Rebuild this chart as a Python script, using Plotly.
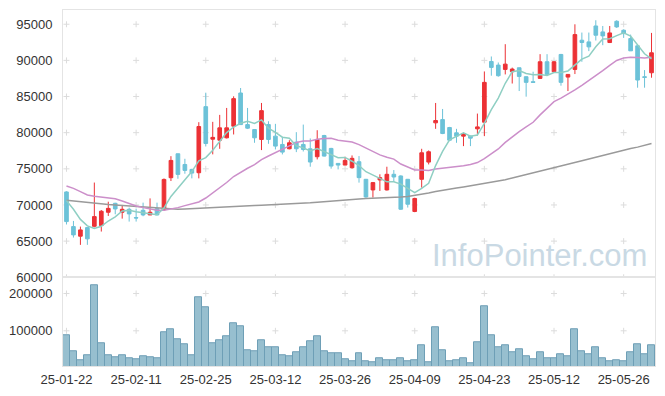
import plotly.graph_objects as go

dates = (
    ["25-01-22", "25-01-23", "25-01-24", "25-01-31"]
    + ["25-02-" + d for d in ["03", "04", "05", "06", "07", "10", "11", "12", "13", "14",
                               "17", "18", "19", "20", "21", "24", "25", "26", "27", "28"]]
    + ["25-03-" + d for d in ["04", "05", "06", "07", "10", "11", "12", "13", "14", "17",
                               "18", "19", "20", "21", "24", "25", "26", "27", "28", "31"]]
    + ["25-04-" + d for d in ["01", "02", "03", "04", "07", "08", "09", "10", "11", "14", "15",
                               "16", "17", "18", "21", "22", "23", "24", "25", "28", "29", "30"]]
    + ["25-05-" + d for d in ["02", "07", "08", "09", "12", "13", "14", "15", "16", "19",
                               "20", "21", "22", "23", "26", "27", "28", "29", "30"]]
)

open_ = [71800, 67010, 65680, 66870, 67050, 67150, 68990, 70230, 68990, 69400,
         68250, 69260, 68620, 69490, 69350, 73770, 77080, 75600, 74920, 74460,
         83600, 79100, 78960, 79290, 80900, 85490, 81120, 80430, 79060, 81120,
         79520, 78370, 77770, 78690, 78370, 77770, 76670, 79610, 77820, 75750,
         75520, 75150, 75980, 73550, 72080, 73460, 72080, 74240, 74010, 73550,
         69100, 73550, 75930, 81360, 81810, 80710, 79980, 79520, 79520, 80530,
         81450, 89850, 89350, 88750, 88430, 88980, 87740, 87050, 87510, 89810,
         88430, 90820, 87690, 88750, 92790, 92560, 94760, 93940, 92470, 95410,
         94170, 93020, 92010, 87740, 88290]
high = [71900, 67790, 67010, 66900, 73100, 69300, 70450, 70300, 70000, 69630,
        69490, 70320, 70910, 70320, 73670, 76750, 77100, 76390, 75000, 81450,
        85530, 81500, 82460, 83420, 85030, 86180, 83420, 80500, 84110, 81580,
        81220, 79420, 78960, 80070, 81120, 79200, 80340, 79700, 77900, 75800,
        76670, 76850, 76760, 73600, 73180, 74240, 75290, 74830, 74100, 73600,
        71000, 77770, 77540, 84110, 83280, 80800, 80530, 80000, 79600, 82640,
        88470, 90540, 89710, 92240, 89000, 89000, 87800, 88430, 90860, 90860,
        89900, 90900, 88100, 94990, 93850, 93850, 95550, 94760, 94760, 95550,
        94300, 93570, 92100, 88660, 93800]
low = [67300, 65490, 64480, 64480, 66900, 66320, 68480, 68710, 68110, 67700,
       67700, 68440, 68600, 68600, 69170, 73310, 73630, 74320, 73680, 73680,
       78090, 77000, 77770, 79200, 79750, 81100, 80500, 78600, 77590, 78460,
       77680, 76990, 77700, 77310, 77400, 75290, 76300, 76700, 75020, 74920,
       75500, 75020, 73090, 71000, 71020, 71940, 72000, 73180, 69320, 69640,
       69000, 72400, 75610, 80530, 79800, 78830, 78600, 78140, 78140, 79610,
       79520, 87880, 87740, 88060, 86800, 85760, 84980, 86900, 87500, 88000,
       88400, 86500, 85760, 88110, 89810, 91280, 92750, 92100, 92400, 94490,
       93110, 91300, 86220, 86220, 87600]
close = [67700, 65860, 66550, 65310, 68390, 69130, 69530, 69450, 69400, 68760,
         68200, 68620, 68990, 68620, 73530, 76160, 74230, 74780, 74410, 80850,
         78500, 79350, 80670, 80670, 84710, 81120, 80620, 79290, 83050, 79060,
         78140, 77310, 78600, 77770, 77680, 75940, 79060, 76760, 75380, 75520,
         76160, 76450, 73780, 71110, 73090, 73780, 74240, 73870, 69410, 70100,
         70900, 77220, 77360, 81680, 79880, 78960, 79520, 79880, 79240, 80800,
         86960, 89030, 87880, 89480, 88800, 87780, 86960, 86960, 89810, 88060,
         89810, 86960, 88060, 93570, 92470, 91870, 93480, 93390, 93800, 94630,
         93710, 91320, 87280, 87650, 91050]
volume = [88000, 45500, 21400, 34800, 222000, 66800, 34800, 29400, 34800, 26700,
          24000, 32000, 29400, 26700, 96300, 103000, 77500, 64200, 34800, 190000,
          163000, 66800, 74900, 85600, 119500, 111500, 48100, 44600, 74000, 55300,
          55300, 33900, 31200, 42000, 55300, 72200, 84700, 44600, 39300, 39300,
          24000, 17900, 39300, 17900, 15200, 25900, 20600, 20600, 25900, 17900,
          20600, 60700, 15200, 108800, 48100, 17900, 20600, 25900, 12600, 68700,
          165000, 87400, 55300, 60700, 42000, 50000, 31200, 23300, 42000, 25900,
          25900, 36600, 31200, 103000, 44600, 36600, 55300, 25900, 17900, 20600,
          17900, 42000, 63400, 36600, 60700]
ma5 = [70600, 69400, 68000, 67100, 66760, 67050, 67780, 68360, 69180, 69250,
       69070, 68890, 68790, 68640, 69590, 71180, 72310, 73460, 74620, 76090,
       76550, 77580, 78760, 80010, 80780, 81300, 81560, 81280, 81760, 80630,
       80030, 79370, 79230, 78180, 77900, 77460, 77810, 77440, 76960, 76530,
       76580, 76050, 75460, 74600, 74120, 73640, 73200, 73220, 72880, 72280,
       71700, 72300, 73000, 75450, 77410, 79020, 79480, 79980, 79500, 79680,
       81280, 83180, 84780, 86830, 88430, 88590, 88180, 88000, 88060, 87910,
       88320, 88320, 88540, 89290, 90170, 90590, 91890, 92960, 93000, 93430,
       93800, 93370, 92150, 90920, 90200]
ma20 = [72620, 72290, 71840, 71380, 71200, 71110, 71010, 70870, 70550, 70180,
        69860, 69630, 69450, 69260, 69260, 69400, 69630, 69910, 70180, 70420,
        70960, 71640, 72340, 73110, 73930, 74530, 75080, 75570, 76260, 76770,
        77270, 77700, 78180, 78640, 78850, 78840, 79080, 79180, 79230, 78960,
        78840, 78700, 78350, 77880, 77300, 76930, 76610, 76340, 75660, 75210,
        74850, 74840, 74780, 74980, 75090, 75240, 75260, 75420, 75610, 75870,
        76410, 77040, 77750, 78660, 79450, 80150, 80790, 81440, 82460, 83360,
        84300, 84790, 85330, 85920, 86550, 87200, 87890, 88570, 89300, 89990,
        90330, 90440, 90410, 90320, 90430]
ma60 = [70660, 70550, 70450, 70330, 70230, 70150, 70070, 70000, 69940, 69880,
        69800, 69720, 69650, 69580, 69500, 69450, 69420, 69450, 69500, 69550,
        69620, 69690, 69760, 69800, 69830, 69860, 69890, 69920, 69950, 69990,
        70020, 70060, 70100, 70150, 70220, 70300, 70380, 70470, 70560, 70660,
        70750, 70800, 70840, 70880, 70910, 70950, 71000, 71050, 71100, 71170,
        71300, 71450, 71650, 71850, 72050, 72200, 72350, 72500, 72650, 72800,
        72950, 73100, 73280, 73500, 73720, 73950, 74180, 74420, 74660, 74900,
        75140, 75380, 75620, 75870, 76120, 76370, 76620, 76860, 77100, 77340,
        77580, 77800, 78000, 78250, 78500]

tick_labels = ["25-01-22", "25-02-11", "25-02-25", "25-03-12", "25-03-26",
               "25-04-09", "25-04-23", "25-05-12", "25-05-26"]
price_ticks = [60000, 65000, 70000, 75000, 80000, 85000, 90000, 95000]
volume_ticks = [100000, 200000]

UP = "#ec3135"
DOWN = "#6cc2d8"
FRAME = "#e4e4e4"
CROSS = "#dcdcdc"
FONT = "Liberation Sans"

fig = go.Figure()

fig.add_trace(go.Candlestick(
    x=dates, open=open_, high=high, low=low, close=close,
    xaxis="x", yaxis="y",
    increasing=dict(line=dict(color=UP, width=1), fillcolor=UP),
    decreasing=dict(line=dict(color=DOWN, width=1), fillcolor=DOWN),
    whiskerwidth=0, showlegend=False, name="price"))

fig.add_trace(go.Scatter(x=dates, y=ma60, mode="lines", xaxis="x", yaxis="y",
                         line=dict(color="#9a9a9a", width=1.5), showlegend=False))
fig.add_trace(go.Scatter(x=dates, y=ma20, mode="lines", xaxis="x", yaxis="y",
                         line=dict(color="#cc8fca", width=1.5), showlegend=False))
fig.add_trace(go.Scatter(x=dates, y=ma5, mode="lines", xaxis="x", yaxis="y",
                         line=dict(color="#8fcfc3", width=1.5), showlegend=False))

fig.add_trace(go.Bar(x=dates, y=volume, xaxis="x2", yaxis="y2",
                     marker=dict(color="#97bfcf", line=dict(color="#6e9fb6", width=1)),
                     showlegend=False))

# small grid crosses at tick intersections, drawn beneath the data
shapes = []
def crosses(xref, yref, yvals):
    for t in tick_labels:
        for v in yvals:
            shapes.append(dict(type="line", layer="below", xref=xref, yref=yref,
                               xsizemode="pixel", xanchor=t, x0=-3, x1=3, y0=v, y1=v,
                               line=dict(color=CROSS, width=1)))
            shapes.append(dict(type="line", layer="below", xref=xref, yref=yref,
                               ysizemode="pixel", yanchor=v, y0=-3, y1=3, x0=t, x1=t,
                               line=dict(color=CROSS, width=1)))
crosses("x", "y", price_ticks)
crosses("x2", "y2", volume_ticks)

split = (367 - 278) / 357.0

axis_common = dict(showgrid=False, zeroline=False, showline=True, mirror=True,
                   linecolor=FRAME, linewidth=1, ticks="",
                   tickfont=dict(family=FONT, size=13, color="#333333"))

fig.update_layout(
    width=665, height=396,
    margin=dict(l=62, r=9, t=10, b=29),
    paper_bgcolor="white", plot_bgcolor="white",
    bargap=0, boxgap=0.25,
    shapes=shapes,
    xaxis=dict(type="category", domain=[0, 1], anchor="y", range=[-0.5, 84.5],
               showticklabels=False, rangeslider=dict(visible=False),
               categoryorder="array", categoryarray=dates, **axis_common),
    yaxis=dict(domain=[split, 1], anchor="x", range=[60000, 96970],
               tickvals=price_ticks, ticktext=[str(v) for v in price_ticks],
               ticklabelstandoff=7, **axis_common),
    xaxis2=dict(type="category", domain=[0, 1], anchor="y2", range=[-0.5, 84.5],
                tickvals=tick_labels, ticktext=tick_labels, ticklabelstandoff=1,
                categoryorder="array", categoryarray=dates, **axis_common),
    yaxis2=dict(domain=[0, split], anchor="x2", range=[5600, 243600],
                tickvals=volume_ticks, ticktext=[str(v) for v in volume_ticks],
                ticklabelstandoff=7, **axis_common),
    annotations=[dict(text="InfoPointer.com", xref="paper", yref="paper",
                      x=0.805, y=0.311, xanchor="center", yanchor="middle",
                      showarrow=False,
                      font=dict(family=FONT, size=31, color="#c9d9e4"))],
)

fig.write_html("out.html", config={"displayModeBar": False},
               post_script="document.body.style.margin='0px';")
